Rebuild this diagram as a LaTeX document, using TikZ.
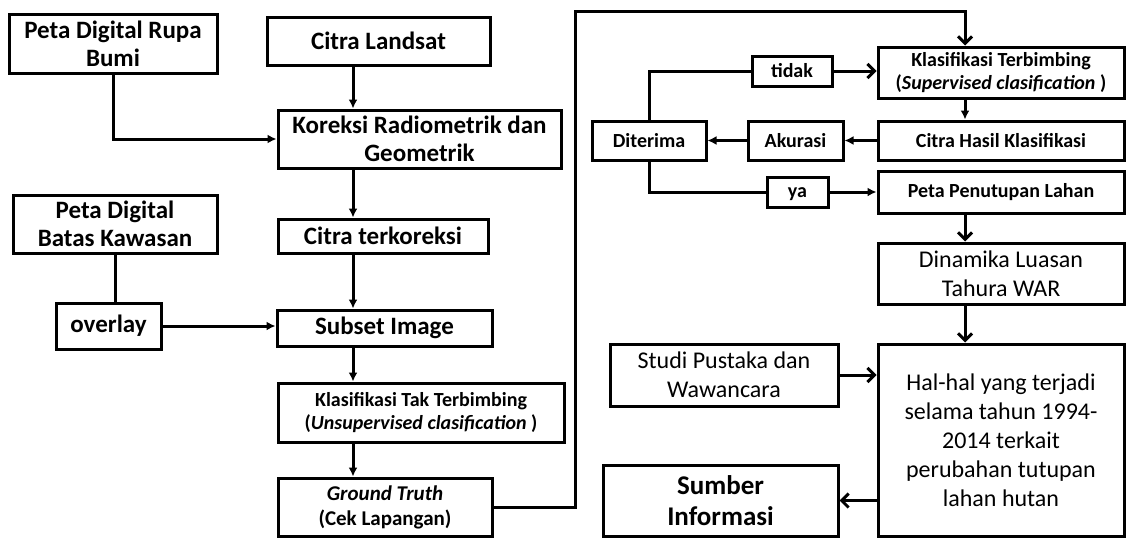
\documentclass[tikz,border=0pt]{standalone}
\usepackage{fontspec}
\setmainfont{Carlito}
\usetikzlibrary{arrows.meta}
\begin{document}
\begin{tikzpicture}[x=1pt,y=-1pt,
  kotak/.style={draw,line width=3pt,inner sep=0pt,align=center,font=\bfseries\fontsize{25}{28}\selectfont},
  kecil/.style={font=\bfseries\fontsize{20}{23}\selectfont},
  biasa/.style={font=\fontsize{24}{29}\selectfont},
  garis/.style={line width=3pt},
  panah/.style={garis,-{Latex[length=9pt,width=9pt]}},
  panahv/.style={garis,-{Straight Barb[length=7pt,width=14pt]}}]
\useasboundingbox (0,0) rectangle (1127,538);
\coordinate (jalur) at (353,0);
\coordinate (jalurkanan) at (965,0);
\coordinate (atas) at (575,11);
% kolom kiri
\node[kotak,minimum width=208,minimum height=59] (rupabumi) at (113,43.5) {Peta Digital Rupa\\Bumi};
\node[kotak,minimum width=223,minimum height=48] (landsat) at (378.5,41) {Citra Landsat};
\node[kotak,minimum width=283,minimum height=58] (koreksi) at (419.5,139) {Koreksi Radiometrik dan\\Geometrik};
\node[kotak,minimum width=204,minimum height=58] (batas) at (115,224) {Peta Digital\\Batas Kawasan};
\node[kotak,minimum width=210,minimum height=34] (terkoreksi) at (383,236) {Citra terkoreksi};
\node[kotak,minimum width=105,minimum height=46] (overlay) at (108.5,326) {overlay};
\node[kotak,minimum width=215,minimum height=36] (subset) at (384.5,328) {Subset Image};
\node[kotak,kecil,minimum width=286,minimum height=59] (taktb) at (421,412.5) {Klasifikasi Tak Terbimbing\\(\textit{Unsupervised clasification} )};
\node[kotak,font=\bfseries\fontsize{21}{25}\selectfont,minimum width=214,minimum height=58] (ground) at (385,507) {\textit{Ground Truth}\\(Cek Lapangan)};
% kolom kanan
\node[kotak,kecil,minimum width=246,minimum height=51] (terbimbing) at (1001,72.5) {Klasifikasi Terbimbing\\(\textit{Supervised clasification} )};
\node[kotak,kecil,minimum width=246,minimum height=39] (hasil) at (1001,140.5) {Citra Hasil Klasifikasi};
\node[kotak,kecil,minimum width=246,minimum height=42] (penutupan) at (1001,192) {Peta Penutupan Lahan};
\node[kotak,biasa,minimum width=246,minimum height=61] (dinamika) at (1001,273.5) {Dinamika Luasan\\Tahura WAR};
\node[kotak,biasa,minimum width=246,minimum height=192] (halhal) at (1001,440) {Hal-hal yang terjadi\\selama tahun 1994-\\2014 terkait\\perubahan tutupan\\lahan hutan};
\node[kotak,kecil,minimum width=114,minimum height=39] (diterima) at (649,140.5) {Diterima};
\node[kotak,kecil,minimum width=95,minimum height=39] (akurasi) at (795.5,140.5) {Akurasi};
\node[kotak,kecil,minimum width=80,minimum height=30] (tidak) at (792,71) {tidak};
\node[kotak,kecil,text height=10pt,text depth=0pt,minimum width=61,minimum height=30] (ya) at (797.5,192) {ya};
\node[kotak,biasa,minimum width=228,minimum height=62] (studi) at (724,375) {Studi Pustaka dan\\Wawancara};
\node[kotak,font=\bfseries\fontsize{27}{31}\selectfont,minimum width=235,minimum height=71] (sumber) at (720.5,500.5) {Sumber\\Informasi};
% alur kiri
\draw[panah] (rupabumi.south) |- (koreksi.west);
\draw[panah] (landsat.south -| jalur) -- (koreksi.north -| jalur);
\draw[panah] (koreksi.south -| jalur) -- (terkoreksi.north -| jalur);
\draw[garis] (batas.south) -- (batas.south |- overlay.north);
\draw[panah] (terkoreksi.south -| jalur) -- (subset.north -| jalur);
\draw[panah] (overlay.east) -- (overlay.east -| subset.west);
\draw[panah] (subset.south -| jalur) -- (taktb.north -| jalur);
\draw[panah] (taktb.south -| jalur) -- (ground.north -| jalur);
\draw[panahv] (ground.east) -| (atas) -| (terbimbing.north -| jalurkanan);
% alur kanan
\draw[panah] (terbimbing.south -| jalurkanan) -- (hasil.north -| jalurkanan);
\draw[panah] (hasil.west) -- (akurasi.east);
\draw[panah] (akurasi.west) -- (diterima.east);
\draw[garis] (diterima.north) |- (tidak.west);
\draw[panahv] (tidak.east) -- (tidak.east -| terbimbing.west);
\draw[garis] (diterima.south) |- (ya.west);
\draw[panah] (ya.east) -- (ya.east -| penutupan.west);
\draw[panahv] (penutupan.south -| jalurkanan) -- (dinamika.north -| jalurkanan);
\draw[panahv] (dinamika.south -| jalurkanan) -- (halhal.north -| jalurkanan);
\draw[panahv] (studi.east) -- (studi.east -| halhal.west);
\draw[panahv] (halhal.west |- sumber.east) -- (sumber.east);
\end{tikzpicture}
\end{document}
